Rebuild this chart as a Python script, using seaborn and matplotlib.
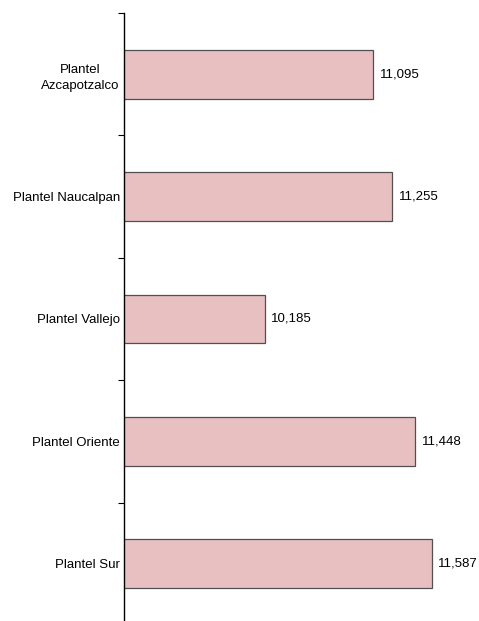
import matplotlib
matplotlib.use("Agg")
import matplotlib.pyplot as plt
import seaborn as sns
import pandas as pd
import numpy as np

categories = ["Plantel\nAzcapotzalco", "Plantel Naucalpan", "Plantel Vallejo",
              "Plantel Oriente", "Plantel Sur"]
values = [11095, 11255, 10185, 11448, 11587]
value_labels = ["11,095", "11,255", "10,185", "11,448", "11,587"]

sns.set_style("white")
plt.rcParams['font.family'] = ['Liberation Sans', 'DejaVu Sans']

df = pd.DataFrame({"cat": categories, "val": values})

W, H = 479, 621
fig = plt.figure(figsize=(W / 100, H / 100), dpi=100)
left = 124 / W
top_px, bot_px = 13, 625
width = 3000 * 0.119 / W
ax = fig.add_axes([left, 1 - bot_px / H, width, (bot_px - top_px) / H])

sns.barplot(data=df, x="val", y="cat", orient="h", color="#E8C0C1",
            saturation=1, width=0.4, edgecolor="#505050", linewidth=0.9, ax=ax)

ax.set_xlim(9000, 12000)
ax.set_ylim(4.5, -0.5)
ax.set_xlabel("")
ax.set_ylabel("")
ax.set_xticks([])
for s in ["top", "right", "bottom"]:
    ax.spines[s].set_visible(False)
ax.spines["left"].set_color("black")
ax.spines["left"].set_linewidth(1.0)

ax.set_yticks(range(len(categories)))
ax.set_yticklabels(categories, fontsize=9.5, multialignment="center",
                   linespacing=1.45, color="black")
ax.tick_params(axis="y", which="major", length=0, pad=3)
ax.set_yticks(np.arange(-0.5, len(categories), 1.0), minor=True)
ax.tick_params(axis="y", which="minor", length=4, width=0.8, color="black", left=True)

for i, (v, lab) in enumerate(zip(values, value_labels)):
    ax.annotate(lab, xy=(v, i), xytext=(4.5, 0), textcoords="offset points",
                ha="left", va="center", fontsize=9.5, color="black")

fig.savefig("out.png", dpi=100)
